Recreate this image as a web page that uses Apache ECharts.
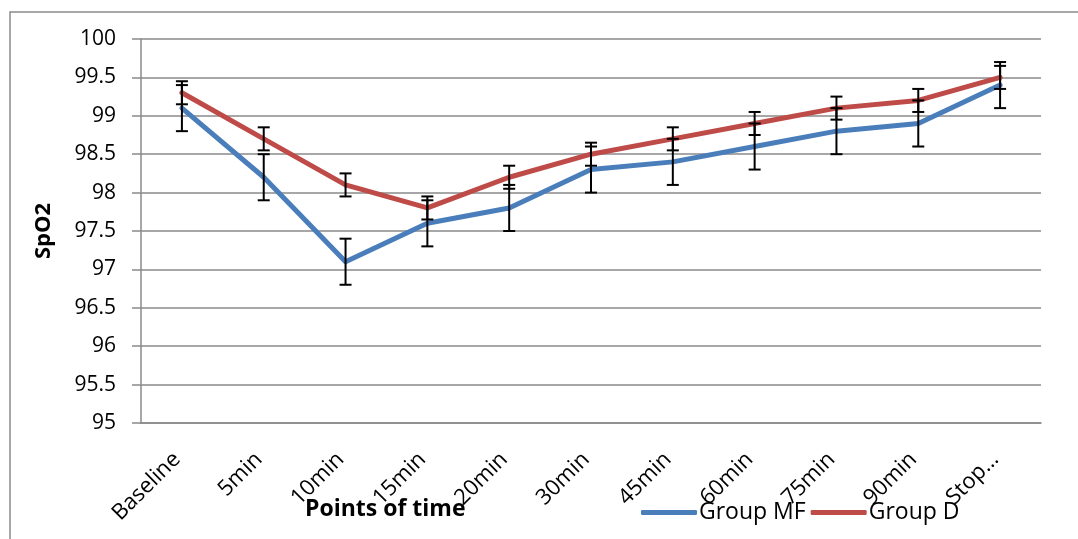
<!DOCTYPE html>
<html>
<head>
<meta charset="utf-8">
<script src="https://cdn.jsdelivr.net/npm/echarts@6/dist/echarts.min.js"></script>
<style>
html,body{margin:0;padding:0;background:#fff;}
#c{width:1078px;height:539px;}
</style>
</head>
<body>
<div id="c"></div>
<script>
var categories = ['Baseline','5min','10min','15min','20min','30min','45min','60min','75min','90min','Stop\u2026'];
var groupMF = [99.1, 98.2, 97.1, 97.6, 97.8, 98.3, 98.4, 98.6, 98.8, 98.9, 99.4];
var groupD  = [99.3, 98.7, 98.1, 97.8, 98.2, 98.5, 98.7, 98.9, 99.1, 99.2, 99.5];
var errMF   = [0.3, 0.3, 0.3, 0.3, 0.3, 0.3, 0.3, 0.3, 0.3, 0.3, 0.3];
var errD    = [0.15, 0.15, 0.15, 0.15, 0.15, 0.15, 0.15, 0.15, 0.15, 0.15, 0.15];
var yTicks  = [95, 95.5, 96, 96.5, 97, 97.5, 98, 98.5, 99, 99.5, 100];

function errData(vals, errs){
  return vals.map(function(v,i){ return [i, v - errs[i], v + errs[i]]; });
}
function errRender(params, api){
  var x = api.value(0);
  var lo = api.coord([x, api.value(1)]);
  var hi = api.coord([x, api.value(2)]);
  var h = 6;
  var st = {stroke:'#000', lineWidth:2, fill:null};
  return {type:'group', children:[
    {type:'line', shape:{x1:lo[0],y1:lo[1],x2:hi[0],y2:hi[1]}, style:st},
    {type:'line', shape:{x1:lo[0]-h,y1:lo[1],x2:lo[0]+h,y2:lo[1]}, style:st},
    {type:'line', shape:{x1:hi[0]-h,y1:hi[1],x2:hi[0]+h,y2:hi[1]}, style:st}
  ]};
}
var FONT = 'Open Sans';
var chart = echarts.init(document.getElementById('c'));
chart.setOption({
  animation:false,
  backgroundColor:'#fff',
  textStyle:{fontFamily:FONT},
  graphic:[{type:'rect', shape:{x:10,y:12,width:1100,height:600}, style:{fill:null, stroke:'#8a8a8a', lineWidth:1.5}, silent:true}],
  title:{text:'Points of time', left:300, top:493, textStyle:{fontFamily:FONT, fontSize:23, fontWeight:'bold', color:'#000'}},
  legend:{data:['Group MF','Group D'], left:636, top:496, icon:'roundRect', itemWidth:56, itemHeight:5, itemGap:5,
    textStyle:{fontFamily:FONT, fontSize:23, color:'#000', padding:[0,0,0,-3]}},
  grid:{left:141, right:37, top:39, bottom:116, containLabel:false},
  xAxis:{type:'category', data:categories, boundaryGap:true,
    axisLine:{lineStyle:{color:'#8a8a8a', width:1.5}},
    axisTick:{show:false},
    axisLabel:{rotate:45, fontSize:22, color:'#000', margin:28, interval:0, fontFamily:FONT, padding:[0,7,0,0]}},
  yAxis:{type:'value', min:95, max:100, interval:0.5,
    name:'SpO2', nameLocation:'middle', nameGap:86,
    nameTextStyle:{fontFamily:FONT, fontSize:22, fontWeight:'bold', color:'#000'},
    axisLine:{show:true, lineStyle:{color:'#8a8a8a', width:1.5}},
    axisTick:{show:true, length:9, lineStyle:{color:'#8a8a8a', width:1.5}},
    axisLabel:{fontSize:21, color:'#000', margin:25, fontFamily:FONT,
      formatter:function(v){ return String(yTicks[Math.round((v-95)/0.5)]); }},
    splitLine:{lineStyle:{color:'#8a8a8a', width:1.5}}},
  series:[
    {name:'Group MF', type:'line', data:groupMF, symbol:'none', color:'#4A7EBB',
      lineStyle:{width:5, color:'#4A7EBB', cap:'round', join:'round'}, z:3},
    {name:'Group D', type:'line', data:groupD, symbol:'none', color:'#BE4B48',
      lineStyle:{width:5, color:'#BE4B48', cap:'round', join:'round'}, z:3},
    {name:'errMF', type:'custom', data:errData(groupMF, errMF), renderItem:errRender, z:5, silent:true},
    {name:'errD', type:'custom', data:errData(groupD, errD), renderItem:errRender, z:5, silent:true}
  ]
});
</script>
</body>
</html>
